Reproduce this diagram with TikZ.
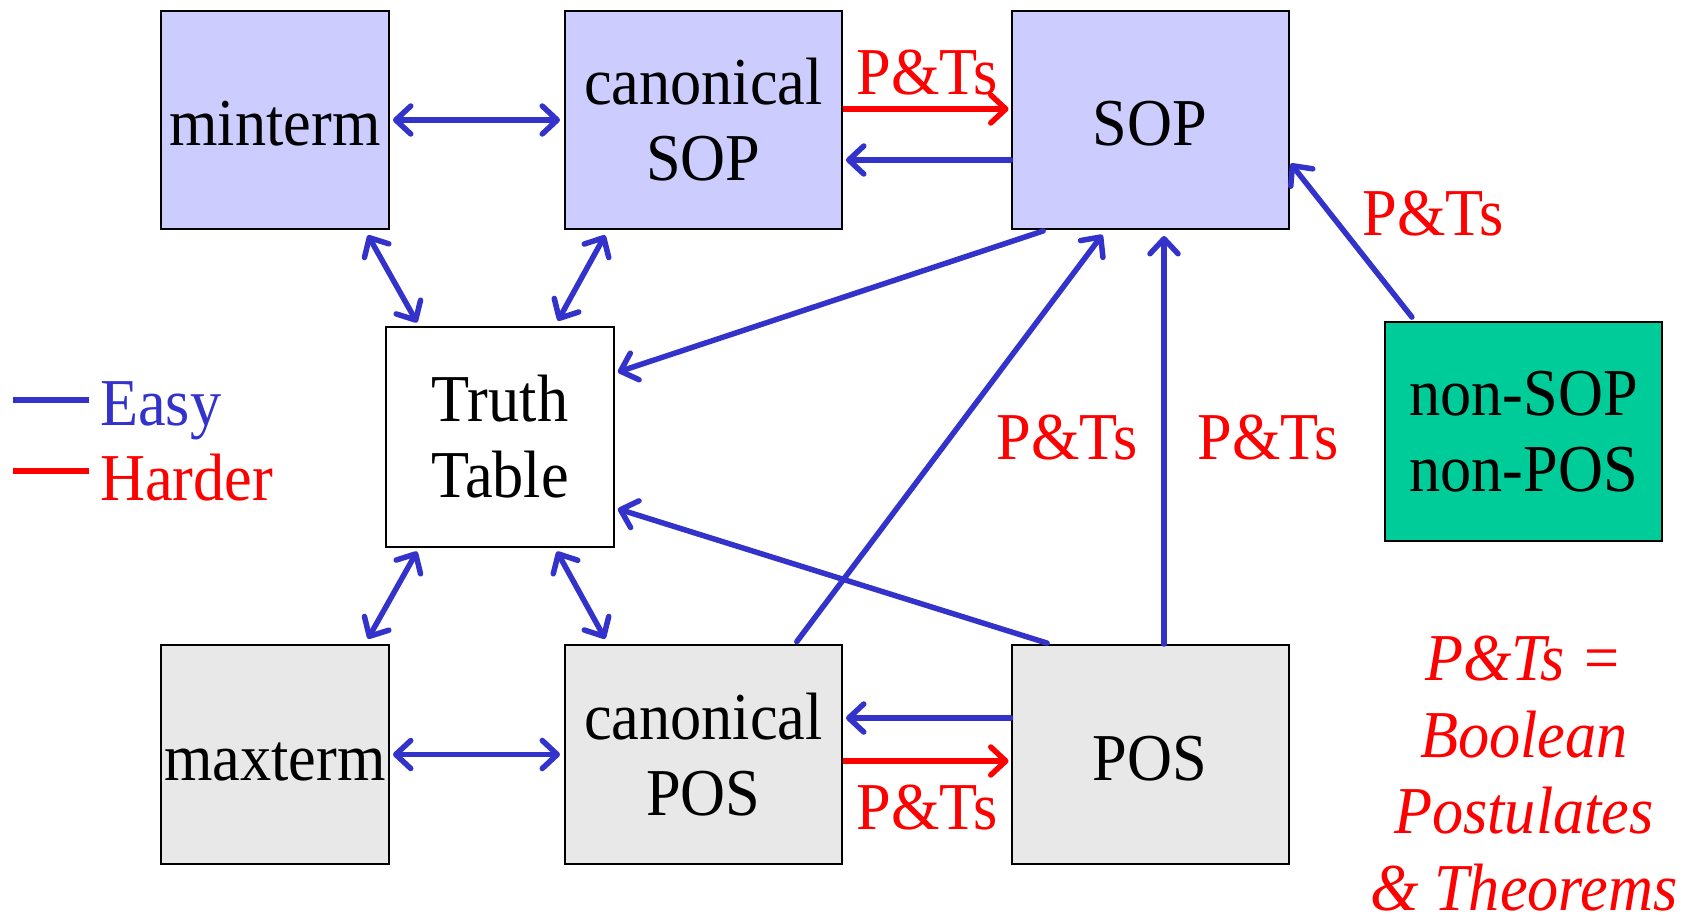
\documentclass[tikz,border=0pt]{standalone}
\usepackage{fontspec}
\setmainfont{Liberation Serif}[FakeStretch=0.93]
\usetikzlibrary{arrows.meta}
\definecolor{easyblue}{HTML}{3333CC}
\definecolor{hardred}{HTML}{FF0000}
\definecolor{lav}{HTML}{CCCCFF}
\definecolor{grayfill}{HTML}{E8E8E8}
\definecolor{greenfill}{HTML}{00CC99}
\tikzset{
  box/.style={draw=black, line width=2pt, rectangle, inner sep=0pt, align=center,
    font=\fontsize{67}{76}\selectfont},
  wbox/.style={box, minimum width=228pt, minimum height=218pt},
  bbox/.style={box, minimum width=277pt, minimum height=218pt},
  oneline/.style={text height=52pt, text depth=0pt},
  barb/.tip={Straight Barb[length=15pt,width=28pt,line width=5.5pt,round]},
  easy/.style={draw=easyblue, line width=5.5pt, line cap=round, -barb},
  easy2/.style={easy, barb-barb},
  hard/.style={draw=hardred, line width=5.5pt, -barb},
  lbl/.style={text=hardred, inner sep=0pt, font=\fontsize{67}{76}\selectfont},
}
\begin{document}
\begin{tikzpicture}[x=1pt,y=-1pt]
\useasboundingbox (0,0) rectangle (1694,915);
% boxes
\node[wbox, oneline, fill=lav] (minterm) at (275,120) {minterm};
\node[bbox, fill=lav] (csop) at (703.5,120) {canonical\\SOP};
\node[bbox, oneline, fill=lav] (sop) at (1150,120) {SOP};
\node[wbox, fill=white, minimum height=220pt] (tt) at (500,437) {Truth\\Table};
\node[bbox, fill=greenfill, minimum height=219pt] (non) at (1523.5,431.5) {non-SOP\\non-POS};
\node[wbox, oneline, fill=grayfill, minimum height=219pt] (maxterm) at (275,754.5) {maxterm};
\node[bbox, fill=grayfill, minimum height=219pt] (cpos) at (703.5,754.5) {canonical\\POS};
\node[bbox, oneline, fill=grayfill, minimum height=219pt] (pos) at (1150,754.5) {POS};
% connectors top row
\draw[easy2, shorten <=3pt, shorten >=4pt] (minterm.east) -- (csop.west);
\draw[hard, shorten >=2pt] ([yshift=11pt]csop.east) -- ([yshift=11pt]sop.west);
\draw[easy, shorten >=3pt] ([yshift=-40pt]sop.west) -- ([yshift=-40pt]csop.east);
% to truth table
\draw[easy2, shorten <=6pt, shorten >=4pt] ([xshift=90pt]minterm.south) -- ([xshift=-81pt]tt.north);
\draw[easy2, shorten <=6pt, shorten >=6pt] ([xshift=-95.5pt]csop.south) -- ([xshift=55pt]tt.north);
\draw[easy, shorten <=3pt, shorten >=3pt] ([xshift=-104pt]sop.south) -- ([yshift=64pt]tt.east);
\draw[easy, shorten <=3pt, shorten >=6pt] ([xshift=91.5pt]cpos.north) -- ([xshift=-44pt]sop.south);
\draw[easy, shorten >=6pt] ([xshift=14pt]pos.north) -- ([xshift=14pt]sop.south);
\draw[easy, shorten <=3pt, shorten >=3pt] ([xshift=-100pt]pos.north) -- ([yshift=-71pt]tt.east);
\draw[easy, shorten <=5pt, shorten >=2pt] ([xshift=-108.5pt]non.north) -- ([yshift=-42pt]sop.east);
\draw[easy2, shorten <=4pt, shorten >=6pt] ([xshift=-81pt]tt.south) -- ([xshift=90pt]maxterm.north);
\draw[easy2, shorten <=4pt, shorten >=6pt] ([xshift=55pt]tt.south) -- ([xshift=-95.5pt]cpos.north);
% bottom row
\draw[easy2, shorten <=3pt, shorten >=4pt] (maxterm.east) -- (cpos.west);
\draw[easy, shorten >=3pt] ([yshift=36.5pt]pos.west) -- ([yshift=36.5pt]cpos.east);
\draw[hard, shorten >=2pt] ([yshift=-6.5pt]cpos.east) -- ([yshift=-6.5pt]pos.west);
% P&Ts labels
\node[lbl, anchor=base] (l1) at (927,95) {P\&Ts};
\node[lbl, anchor=base] (l2) at (1433,235) {P\&Ts};
\node[lbl, anchor=base] (l3) at (1067,459) {P\&Ts};
\node[lbl, anchor=base] (l4) at (1268,459) {P\&Ts};
\node[lbl, anchor=base] (l5) at (927,829) {P\&Ts};
% legend
\node[inner sep=0pt, anchor=base west, text=easyblue, font=\fontsize{67}{76}\selectfont] (easytxt) at (100,425) {Easy};
\node[inner sep=0pt, anchor=base west, text=hardred, font=\fontsize{67}{76}\selectfont] (hardtxt) at (100,500) {Harder};
\coordinate (le1) at (13,400);
\coordinate (le2) at (89,400);
\coordinate (lh1) at (13,471);
\coordinate (lh2) at (89,471);
\draw[draw=easyblue, line width=5.5pt] (le1) -- (le2);
\draw[draw=hardred, line width=5.5pt] (lh1) -- (lh2);
% definition
\node[inner sep=0pt, anchor=north, text=hardred, align=center, font=\fontsize{67}{76.5}\itshape\selectfont] (def) at (1524,636)
  {P\&Ts =\\Boolean\\Postulates\\\& Theorems};
\end{tikzpicture}
\end{document}
